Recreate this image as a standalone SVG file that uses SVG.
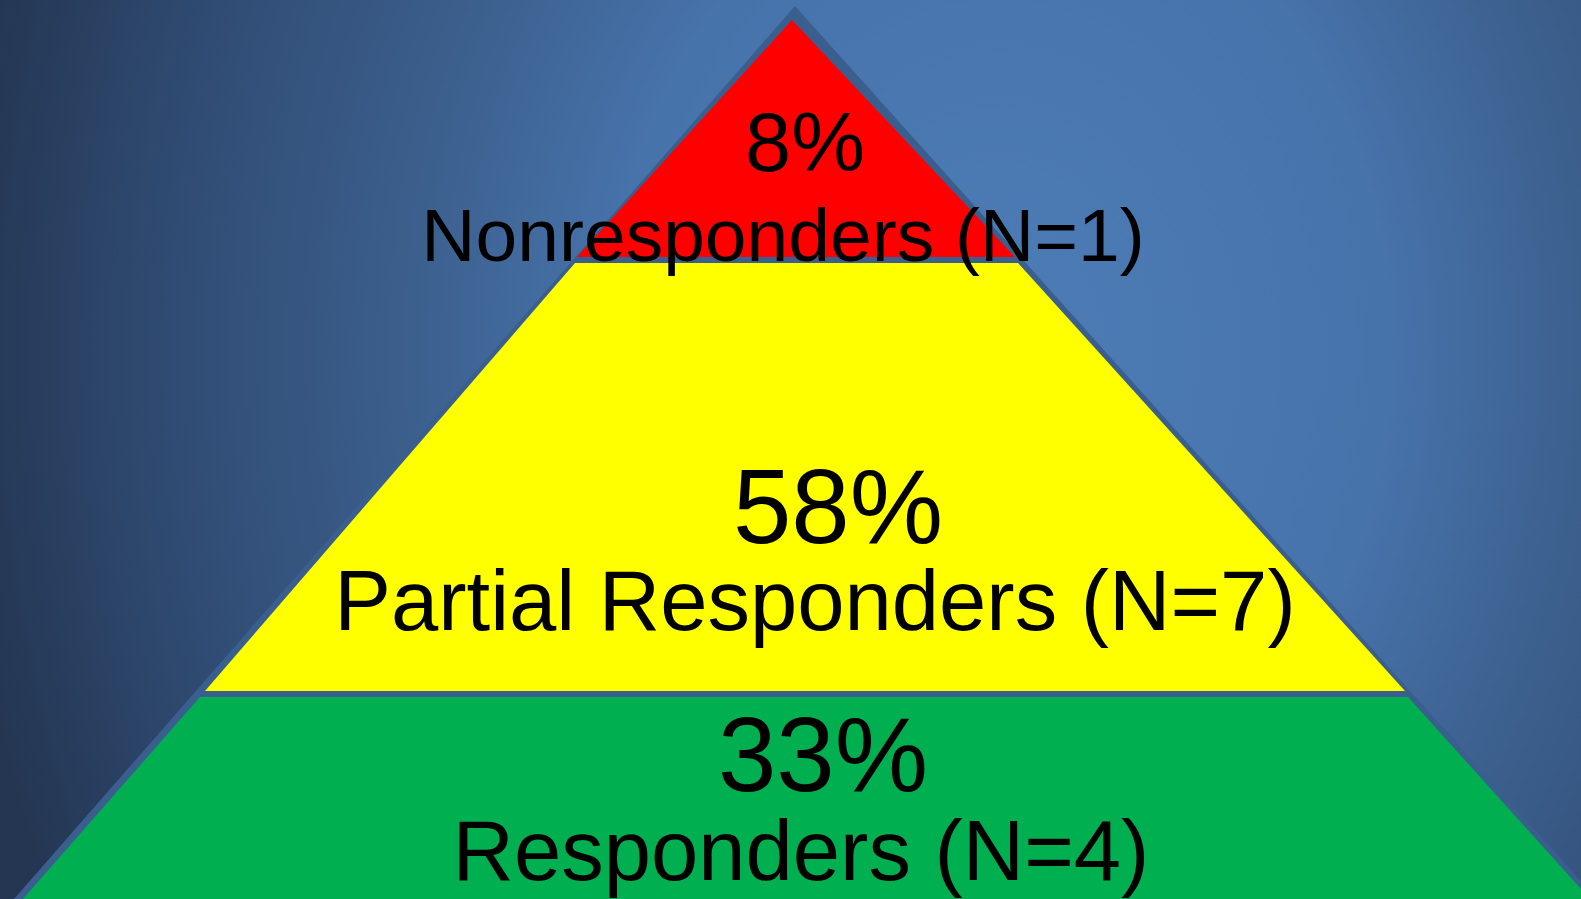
<svg xmlns="http://www.w3.org/2000/svg" width="1581" height="899" viewBox="0 0 1581 899">
<defs>
<radialGradient id="bg" cx="0" cy="0" r="1" gradientUnits="userSpaceOnUse" gradientTransform="translate(1000 350) scale(1100 1400)">
<stop offset="0" stop-color="#4d7cb6"/>
<stop offset="0.35" stop-color="#4773ab"/>
<stop offset="0.55" stop-color="#3b5e8b"/>
<stop offset="0.75" stop-color="#304c74"/>
<stop offset="0.95" stop-color="#243652"/>
</radialGradient>
<style>
text{font-family:"Liberation Sans",Arial,sans-serif;fill:#000;text-anchor:middle}
.pct{font-size:105px}
.lbl{font-size:85px}
</style>
</defs>
<rect width="1581" height="899" fill="url(#bg)"/>
<polygon id="outline" points="795,6 14,899 1597,899" fill="#3a5f8f"/>
<g id="green">
<polygon points="200,697 1408,697 1590,899 23,899" fill="#00b050"/>
<text class="pct" x="823" y="791">33%</text>
<text class="lbl" x="801" y="880">Responders (N=4)</text>
</g>
<g id="yellow">
<polygon points="575,263 1018,263 1405,691 205,691" fill="#ffff00"/>
<text class="pct" x="838" y="543">58%</text>
<text class="lbl" x="815" y="630">Partial Responders (N=7)</text>
</g>
<g id="red">
<polygon points="792,20 1015,257 577,257" fill="#ff0000"/>
<text x="805" y="171" style="font-size:83px">8%</text>
<text x="783" y="261" style="font-size:75px">Nonresponders (N=1)</text>
</g>
<g id="connectors"/>
</svg>
